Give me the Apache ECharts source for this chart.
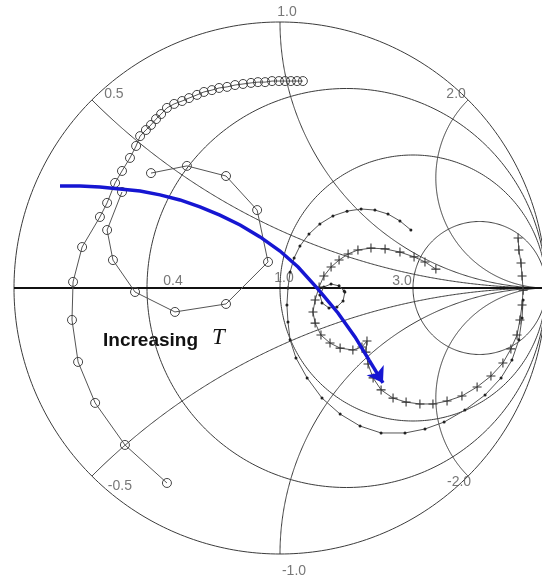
<!DOCTYPE html>
<html><head><meta charset="utf-8">
<script src="https://cdn.jsdelivr.net/npm/echarts@6/dist/echarts.min.js"></script>
<style>html,body{margin:0;padding:0;background:#fff}#chart{width:542px;height:581px}</style>
</head><body><div id="chart"></div>
<script>
// Smith chart drawn in the reflection-coefficient (Gamma) plane; |Gamma| = 1 is the rim.

// constant-resistance circles, given by where they cut the real axis on the left
const resistanceCrossings = [-0.5, 0, 0.5];
const resistanceLabels = ['0.4', '1.0', '3.0'];
// constant-reactance arcs, given by the rim angle (degrees) where they start
const reactanceRimAngles = [135, 90, 45, -135, -90, -45];
const reactanceLabels = ['0.5', '1.0', '2.0', '-0.5', '-1.0', '-2.0'];

// measured trajectories, [Re(Gamma), Im(Gamma)]
const circleTrace = [
  [0.086,0.778],[0.064,0.778],[0.041,0.778],[0.019,0.778],[-0.004,0.778],[-0.030,0.778],
  [-0.056,0.774],[-0.083,0.774],[-0.109,0.771],[-0.139,0.767],[-0.169,0.763],[-0.199,0.756],
  [-0.229,0.752],[-0.256,0.744],[-0.286,0.737],[-0.312,0.726],[-0.342,0.714],[-0.368,0.703],
  [-0.398,0.692],[-0.425,0.677],[-0.447,0.654],[-0.466,0.635],[-0.485,0.613],[-0.504,0.594],
  [-0.526,0.571],[-0.541,0.534],[-0.564,0.489],[-0.594,0.440],[-0.620,0.395],[-0.650,0.320],
  [-0.677,0.267],[-0.744,0.154],[-0.778,0.023],[-0.782,-0.120],[-0.759,-0.278],[-0.695,-0.432],
  [-0.583,-0.590],[-0.425,-0.733]
];
const circleLoop = [
  [-0.485,0.432],[-0.350,0.459],[-0.203,0.421],[-0.086,0.293],[-0.045,0.098],[-0.203,-0.060],
  [-0.395,-0.090],[-0.545,-0.015],[-0.628,0.105],[-0.650,0.218],[-0.594,0.361]
];
const dotTrace = [
  [0.492,0.218],[0.451,0.252],[0.406,0.278],[0.357,0.293],[0.305,0.297],[0.252,0.289],
  [0.199,0.271],[0.150,0.241],[0.109,0.203],[0.075,0.158],[0.053,0.113],[0.038,0.060],
  [0.030,0.000],[0.026,-0.064],[0.030,-0.128],[0.038,-0.195],[0.060,-0.263],[0.102,-0.338],
  [0.158,-0.414],[0.226,-0.474],[0.301,-0.519],[0.380,-0.545],[0.470,-0.545],[0.545,-0.530],
  [0.617,-0.504],[0.695,-0.459],[0.771,-0.402],[0.831,-0.338],[0.872,-0.271],[0.898,-0.195],
  [0.910,-0.113],[0.914,-0.045]
];
const dotLoop = [
  [0.244,-0.015],[0.237,-0.049],[0.214,-0.071],[0.184,-0.075],[0.158,-0.056],[0.150,-0.026],
  [0.165,0.004],[0.192,0.015],[0.222,0.008],[0.241,-0.011]
];
const plusTrace = [
  [0.586,0.071],[0.545,0.098],[0.504,0.117],[0.451,0.135],[0.395,0.147],[0.342,0.150],
  [0.293,0.143],[0.256,0.128],[0.222,0.105],[0.192,0.079],[0.165,0.045],[0.147,0.004],
  [0.132,-0.045],[0.124,-0.090],[0.132,-0.132],[0.154,-0.177],[0.188,-0.207],[0.226,-0.226],
  [0.274,-0.233],[0.308,-0.222],[0.327,-0.199],[0.323,-0.241],[0.331,-0.286],[0.350,-0.338],
  [0.380,-0.383],[0.425,-0.414],[0.474,-0.429],[0.526,-0.436],[0.575,-0.436],[0.628,-0.425],
  [0.684,-0.406],[0.741,-0.372],[0.793,-0.331],[0.838,-0.282],[0.868,-0.229],[0.891,-0.177],
  [0.902,-0.120],[0.910,-0.064],[0.914,-0.008],[0.910,0.045],[0.906,0.094],[0.898,0.143],
  [0.895,0.188]
];
// annotation arrow path
const arrowPath = [
  [-0.827,0.383],[-0.752,0.383],[-0.677,0.380],[-0.602,0.372],[-0.526,0.365],[-0.451,0.350],
  [-0.376,0.331],[-0.301,0.305],[-0.226,0.274],[-0.150,0.237],[-0.075,0.192],[0.000,0.139],
  [0.068,0.079],[0.143,-0.004],[0.218,-0.094],[0.282,-0.184],[0.335,-0.271],[0.387,-0.357]
];

const GRID = '#3c3c3c';
const N = 360;

function circlePts(cx, cy, r, a0, a1) {
  const pts = [];
  for (let i = 0; i <= N; i++) {
    const a = a0 + (a1 - a0) * i / N;
    pts.push([cx + r * Math.cos(a), cy + r * Math.sin(a)]);
  }
  return pts;
}

const gridLines = [];
// rim
gridLines.push({coords: circlePts(0, 0, 1, 0, 2 * Math.PI)});
// resistance circles
resistanceCrossings.forEach(g => {
  gridLines.push({coords: circlePts((1 + g) / 2, 0, (1 - g) / 2, 0, 2 * Math.PI)});
});
// reactance arcs: circle centred at (1, c) with c = tan(theta/2)
reactanceRimAngles.forEach(deg => {
  const t = Math.abs(deg) * Math.PI / 180;
  const c = Math.tan(t / 2);
  const ex = Math.cos(t), ey = Math.sin(t);
  let phi0 = Math.atan2(ey - c, ex - 1);
  if (phi0 < 0) phi0 += 2 * Math.PI;
  const pts = circlePts(1, c, c, phi0, 1.5 * Math.PI);
  if (deg < 0) pts.forEach(p => { p[1] = -p[1]; });
  gridLines.push({coords: pts});
});

// label anchors on the grid
const labelStyle = {color: '#555', fontSize: 14, fontFamily: 'Liberation Sans, Arial, sans-serif'};
const labelPts = [];
const axisOffsets = [[26, -7], [4, -10], [-11, -7]];
resistanceCrossings.forEach((g, i) => {
  labelPts.push({value: [g, 0], name: resistanceLabels[i], label: {offset: axisOffsets[i]}});
});
const rimOffsets = [[22, -6], [7, -10], [-12, -6], [28, 10], [14, 17], [-9, 6]];
reactanceRimAngles.forEach((deg, i) => {
  const t = deg * Math.PI / 180;
  labelPts.push({value: [Math.cos(t), Math.sin(t)], name: reactanceLabels[i],
    label: {offset: rimOffsets[i]}});
});

const openCircle = {color: 'rgba(255,255,255,0)', borderColor: '#444', borderWidth: 1};
const plusMark = 'path://M0,4.4H10V5.6H0Z M4.4,0H5.6V10H4.4Z';
const ARROW = '#1616d2';

const chart = echarts.init(document.getElementById('chart'), null, {renderer: 'canvas'});
const S = 266;
chart.setOption({
  animation: false,
  backgroundColor: '#fff',
  grid: {left: 0, right: 0, top: 0, bottom: 0},
  xAxis: {type: 'value', min: -280 / S, max: 262 / S, show: false},
  yAxis: {type: 'value', min: -293 / S, max: 288 / S, show: false},
  graphic: [
    {type: 'text', left: 103, top: 331, style: {text: 'Increasing', fill: '#111',
      font: 'bold 19px "Liberation Sans", Arial, sans-serif'}},
    {type: 'text', left: 212, top: 326, style: {text: 'T', fill: '#111',
      font: 'italic 23px "Liberation Serif", "Times New Roman", serif'}}
  ],
  series: [
    {type: 'lines', coordinateSystem: 'cartesian2d', polyline: true, silent: true,
      lineStyle: {color: GRID, width: 1, opacity: 1}, data: gridLines, z: 1},
    {type: 'line', data: [[-1, 0], [1.2, 0]], symbol: 'none', silent: true,
      lineStyle: {color: '#111', width: 2}, z: 2},
    {type: 'scatter', data: labelPts, symbolSize: 1, itemStyle: {color: 'rgba(0,0,0,0)'},
      label: Object.assign({show: true, position: 'inside', formatter: '{b}'}, labelStyle), z: 3},
    {type: 'line', data: circleTrace, symbol: 'circle', symbolSize: 9,
      lineStyle: {color: '#555', width: 1}, itemStyle: openCircle, z: 4},
    {type: 'line', data: circleLoop, symbol: 'circle', symbolSize: 9,
      lineStyle: {color: '#555', width: 1}, itemStyle: openCircle, z: 4},
    {type: 'line', data: dotTrace, symbol: 'circle', symbolSize: 3,
      lineStyle: {color: '#555', width: 1}, itemStyle: {color: '#222'}, z: 4},
    {type: 'line', data: dotLoop, symbol: 'circle', symbolSize: 3,
      lineStyle: {color: '#555', width: 1}, itemStyle: {color: '#222'}, z: 4},
    {type: 'line', data: plusTrace, symbol: plusMark, symbolSize: 9,
      lineStyle: {color: '#555', width: 1}, itemStyle: {color: '#333'}, z: 4},
    // arrow body
    {type: 'lines', coordinateSystem: 'cartesian2d', polyline: true, silent: true,
      lineStyle: {color: ARROW, width: 3.5, opacity: 1},
      data: [{coords: arrowPath.slice(0, -1)}], z: 6},
    // arrow head on the final leg
    {type: 'lines', coordinateSystem: 'cartesian2d', silent: true,
      symbol: ['none', 'arrow'], symbolSize: 15,
      lineStyle: {color: ARROW, width: 3.5, opacity: 1},
      data: [{coords: arrowPath.slice(-2)}], z: 6}
  ]
});
</script></body></html>
